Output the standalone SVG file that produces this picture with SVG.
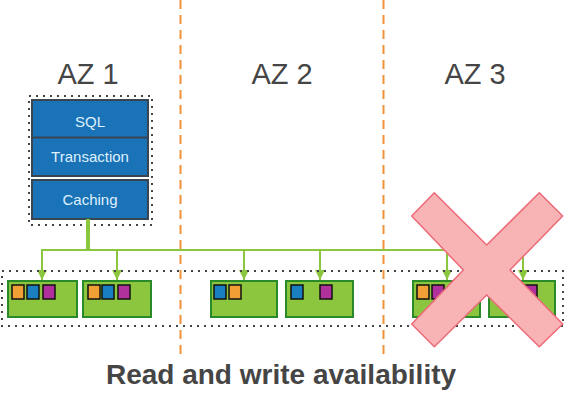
<svg xmlns="http://www.w3.org/2000/svg" width="581" height="409" viewBox="0 0 581 409">
<style>
.az{font-family:"Liberation Sans",Arial,sans-serif;font-size:29px;fill:#454545;text-anchor:middle}
.title{font-family:"Liberation Sans",Arial,sans-serif;font-size:28px;font-weight:bold;fill:#454545;text-anchor:middle}
.lbl{font-family:"Liberation Sans",Arial,sans-serif;font-size:15px;fill:#dff0ff;text-anchor:middle}
.blue{fill:#1a73b6;stroke:#394652;stroke-width:2}
.dot{fill:none;stroke:#444;stroke-width:2;stroke-dasharray:2 5}
.sep{stroke:#f0923a;stroke-width:2;stroke-dasharray:9 6}
.node{fill:#8cc63f;stroke:#2a8a2a;stroke-width:2}
.sq{stroke:#111;stroke-width:1.5}
.o{fill:#f0a035}.b{fill:#1a7fc0}.m{fill:#b0309c}
.conn{fill:none;stroke:#8cc63f;stroke-width:2}
</style>
<defs>
<marker id="arr" viewBox="0 0 10 10" refX="10" refY="5" markerWidth="5" markerHeight="5" orient="auto">
<path d="M0,0 L10,5 L0,10 z" fill="#8cc63f"/>
</marker>
</defs>
<rect width="581" height="409" fill="#fff"/>
<g id="separators">
<line class="sep" x1="180.5" y1="0" x2="180.5" y2="355"/>
<line class="sep" x1="383.5" y1="0" x2="383.5" y2="355"/>
</g>
<g id="labels">
<text class="az" x="88" y="84">AZ 1</text>
<text class="az" x="282" y="84">AZ 2</text>
<text class="az" x="475" y="84">AZ 3</text>
<text class="title" x="281" y="384">Read and write availability</text>
</g>
<g id="db">
<rect class="dot" x="29" y="96" width="123" height="129"/>
<rect class="blue" x="32" y="100" width="116" height="76"/>
<line x1="32" y1="137.5" x2="148" y2="137.5" stroke="#394652" stroke-width="2"/>
<text class="lbl" x="90" y="127">SQL</text>
<text class="lbl" x="90" y="162">Transaction</text>
<rect class="blue" x="32" y="180" width="116" height="39"/>
<text class="lbl" x="90" y="205">Caching</text>
</g>
<g id="connectors">
<line x1="88" y1="219" x2="88" y2="250" stroke="#8cc63f" stroke-width="4"/>
<path class="conn" d="M42,279 V250 H523 V279"/>
<line class="conn" x1="42" y1="250" x2="42" y2="280" marker-end="url(#arr)"/>
<line class="conn" x1="117" y1="250" x2="117" y2="280" marker-end="url(#arr)"/>
<line class="conn" x1="244" y1="250" x2="244" y2="280" marker-end="url(#arr)"/>
<line class="conn" x1="320" y1="250" x2="320" y2="280" marker-end="url(#arr)"/>
<line class="conn" x1="447" y1="250" x2="447" y2="280" marker-end="url(#arr)"/>
<line class="conn" x1="523" y1="250" x2="523" y2="280" marker-end="url(#arr)"/>
</g>
<rect class="dot" x="2" y="271" width="561" height="55"/>
<g id="node1">
<rect class="node" x="8" y="281" width="69" height="36"/>
<rect class="sq o" x="12" y="285" width="12" height="14"/>
<rect class="sq b" x="27" y="285" width="12" height="14"/>
<rect class="sq m" x="43" y="285" width="12" height="14"/>
</g>
<g id="node2">
<rect class="node" x="83" y="281" width="68" height="36"/>
<rect class="sq o" x="88" y="285" width="12" height="14"/>
<rect class="sq b" x="102" y="285" width="12" height="14"/>
<rect class="sq m" x="118" y="285" width="12" height="14"/>
</g>
<g id="node3">
<rect class="node" x="211" y="281" width="66" height="36"/>
<rect class="sq b" x="214" y="285" width="12" height="14"/>
<rect class="sq o" x="229" y="285" width="12" height="14"/>
</g>
<g id="node4">
<rect class="node" x="286" y="281" width="67" height="36"/>
<rect class="sq b" x="291" y="285" width="12" height="14"/>
<rect class="sq m" x="320" y="285" width="12" height="14"/>
</g>
<g id="node5">
<rect class="node" x="413" y="281" width="67" height="36"/>
<rect class="sq o" x="417" y="285" width="12" height="14"/>
<rect class="sq m" x="432" y="285" width="12" height="14"/>
</g>
<g id="node6">
<rect class="node" x="489" y="281" width="66" height="36"/>
<rect class="sq m" x="525" y="285" width="12" height="14"/>
</g>
<g id="cross">
<polygon points="411.7,216 434.3,192.7 486.7,245 539.3,192.7 562.7,216 510,270 562.7,324 539.3,346.7 486.7,295 434.3,346.7 411.7,324 463.3,270" fill="#f8b3b5" stroke="#ec6a78" stroke-width="1.5" stroke-linejoin="round"/>
</g>
</svg>
